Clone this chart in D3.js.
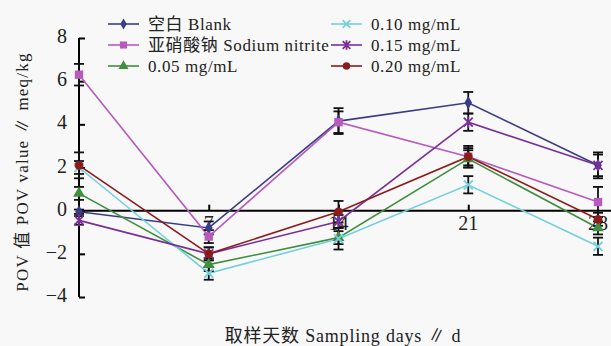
<!DOCTYPE html>
<html>
<head>
<meta charset="utf-8">
<script src="https://cdn.jsdelivr.net/npm/d3@7"></script>
<style>
  body { margin: 0; background: #f8f8f8; }
  svg { display: block; }
  text { font-family: "Liberation Serif", "Noto Sans CJK SC", serif; fill: #222; }
</style>
</head>
<body>
<div id="chart"></div>
<script>
// sampling days
var days = [0, 7, 14, 21, 28];
var xTickLabels = [7, 14, 21, 28];
var yTicks = [-4, -2, 0, 2, 4, 6, 8];

// POV values (meq/kg) per series
var seriesNames = ["空白 Blank", "亚硝酸钠 Sodium nitrite", "0.05 mg/mL", "0.10 mg/mL", "0.15 mg/mL", "0.20 mg/mL"];
var blank    = [-0.05, -0.8, 4.15, 5.0, 2.1];
var nitrite  = [6.3, -1.2, 4.1, 2.5, 0.4];
var c005     = [0.8, -2.5, -1.25, 2.4, -0.8];
var c010     = [2.0, -2.9, -1.3, 1.2, -1.65];
var c015     = [-0.45, -2.0, -0.5, 4.1, 2.1];
var c020     = [2.1, -2.0, -0.05, 2.5, -0.4];
// standard deviations
var errBlank   = [0.1, 0.3, 0.6, 0.5, 0.6];
var errNitrite = [0.5, 0.3, 0.5, 0.4, 0.7];
var err005     = [0.3, 0.3, 0.3, 0.4, 0.3];
var err010     = [0.3, 0.3, 0.5, 0.4, 0.4];
var err015     = [0.2, 0.3, 0.3, 0.4, 0.5];
var err020     = [0.6, 0.3, 0.5, 0.5, 0.3];

var colors  = ["#3c3c86", "#b65bbb", "#3f8f3f", "#74d0dc", "#7a2f98", "#8c1c1c"];
var markers = ["diamond", "square", "triangle", "cross", "star", "circle"];

var values = [blank, nitrite, c005, c010, c015, c020];
var errors = [errBlank, errNitrite, err005, err010, err015, err020];

var W = 611, H = 346;
var svg = d3.select("#chart").append("svg").attr("width", W).attr("height", H);

var x = d3.scaleLinear().domain([0, 28]).range([79, 598]);
var y = d3.scaleLinear().domain([-4, 8]).range([297, 38]);

// y axis, ticks pointing inward
var yAxis = svg.append("g").attr("transform", "translate(" + x(0) + ",0)")
  .call(d3.axisRight(y).tickValues(yTicks).tickSize(6).tickFormat(""));
yAxis.select(".domain").attr("d", "M0," + y(8) + "V" + y(-4)).attr("stroke", "#000").attr("stroke-width", 2);
yAxis.selectAll(".tick line").attr("stroke", "#000").attr("stroke-width", 2);
svg.selectAll(".ylab").data(yTicks).enter().append("text")
  .attr("x", 67).attr("y", function(d){ return y(d) - 2; })
  .attr("text-anchor", "end").attr("dominant-baseline", "central")
  .style("font-size", "20px")
  .text(function(d){ return d < 0 ? "\u2212" + Math.abs(d) : d; });

// x axis along zero
var xAxis = svg.append("g").attr("transform", "translate(0," + y(0) + ")")
  .call(d3.axisTop(x).tickValues([7, 14, 21]).tickSize(6).tickFormat(""));
xAxis.select(".domain").attr("d", "M" + x(0) + ",0H" + W).attr("stroke", "#000").attr("stroke-width", 2);
xAxis.selectAll(".tick line").attr("stroke", "#000").attr("stroke-width", 2);
svg.selectAll(".xlab").data(xTickLabels).enter().append("text")
  .attr("x", function(d){ return x(d); }).attr("y", y(0) + 12)
  .attr("text-anchor", "middle").attr("dominant-baseline", "central")
  .style("font-size", "20px")
  .text(function(d){ return d; });

// lines
var line = d3.line().x(function(d, i){ return x(days[i]); }).y(function(d){ return y(d); });
values.forEach(function(v, s){
  svg.append("path").datum(v).attr("d", line)
    .attr("fill", "none").attr("stroke", colors[s]).attr("stroke-width", 1.6);
});

// error bars
values.forEach(function(v, s){
  var g = svg.append("g").attr("stroke", "#111").attr("stroke-width", 1.8);
  v.forEach(function(val, i){
    var cx = x(days[i]), e = errors[s][i];
    g.append("line").attr("x1", cx).attr("x2", cx).attr("y1", y(val + e)).attr("y2", y(val - e));
    g.append("line").attr("x1", cx - 5).attr("x2", cx + 5).attr("y1", y(val + e)).attr("y2", y(val + e));
    g.append("line").attr("x1", cx - 5).attr("x2", cx + 5).attr("y1", y(val - e)).attr("y2", y(val - e));
  });
});

function drawMarker(g, type, cx, cy, color, small) {
  var k = small ? 0.85 : 1;
  if (type === "cross" || type === "star") {
    var r = 4.5 * k;
    var p = "M" + (cx - r) + "," + (cy - r) + "L" + (cx + r) + "," + (cy + r) +
            "M" + (cx - r) + "," + (cy + r) + "L" + (cx + r) + "," + (cy - r);
    if (type === "star") p += "M" + cx + "," + (cy - r - 1) + "L" + cx + "," + (cy + r + 1);
    g.append("path").attr("d", p).attr("stroke", color).attr("stroke-width", 1.8).attr("fill", "none");
    return;
  }
  var sym = { diamond: d3.symbolDiamond, square: d3.symbolSquare, triangle: d3.symbolTriangle, circle: d3.symbolCircle }[type];
  var size = { diamond: 50, square: 70, triangle: 60, circle: 60 }[type] * k * k;
  g.append("path").attr("d", d3.symbol().type(sym).size(size)())
    .attr("transform", "translate(" + cx + "," + cy + ")")
    .attr("fill", color);
}

// markers
values.forEach(function(v, s){
  var g = svg.append("g");
  v.forEach(function(val, i){ drawMarker(g, markers[s], x(days[i]), y(val), colors[s]); });
});

// legend
var legendPos = [[108, 24], [108, 45], [108, 66], [331, 24], [331, 45], [331, 66]];
seriesNames.forEach(function(name, s){
  var lx = legendPos[s][0], ly = legendPos[s][1];
  var g = svg.append("g");
  g.append("line").attr("x1", lx).attr("x2", lx + 31).attr("y1", ly).attr("y2", ly)
    .attr("stroke", colors[s]).attr("stroke-width", 1.6);
  drawMarker(g, markers[s], lx + 15.5, ly, colors[s], true);
  g.append("text").attr("x", lx + 40).attr("y", ly).attr("dominant-baseline", "central")
    .style("font-size", "17px").style("letter-spacing", "0.6px").text(name);
});

// axis titles
svg.append("text").attr("transform", "translate(22,172) rotate(-90)")
  .attr("text-anchor", "middle").attr("dominant-baseline", "central")
  .style("font-size", "17px").style("letter-spacing", "1.2px")
  .text("POV 值 POV value \u2225 meq/kg");
svg.append("text").attr("x", 343).attr("y", 336)
  .attr("text-anchor", "middle").attr("dominant-baseline", "central")
  .style("font-size", "18px").style("letter-spacing", "0.8px")
  .text("取样天数 Sampling days \u2225 d");
</script>
</body>
</html>
